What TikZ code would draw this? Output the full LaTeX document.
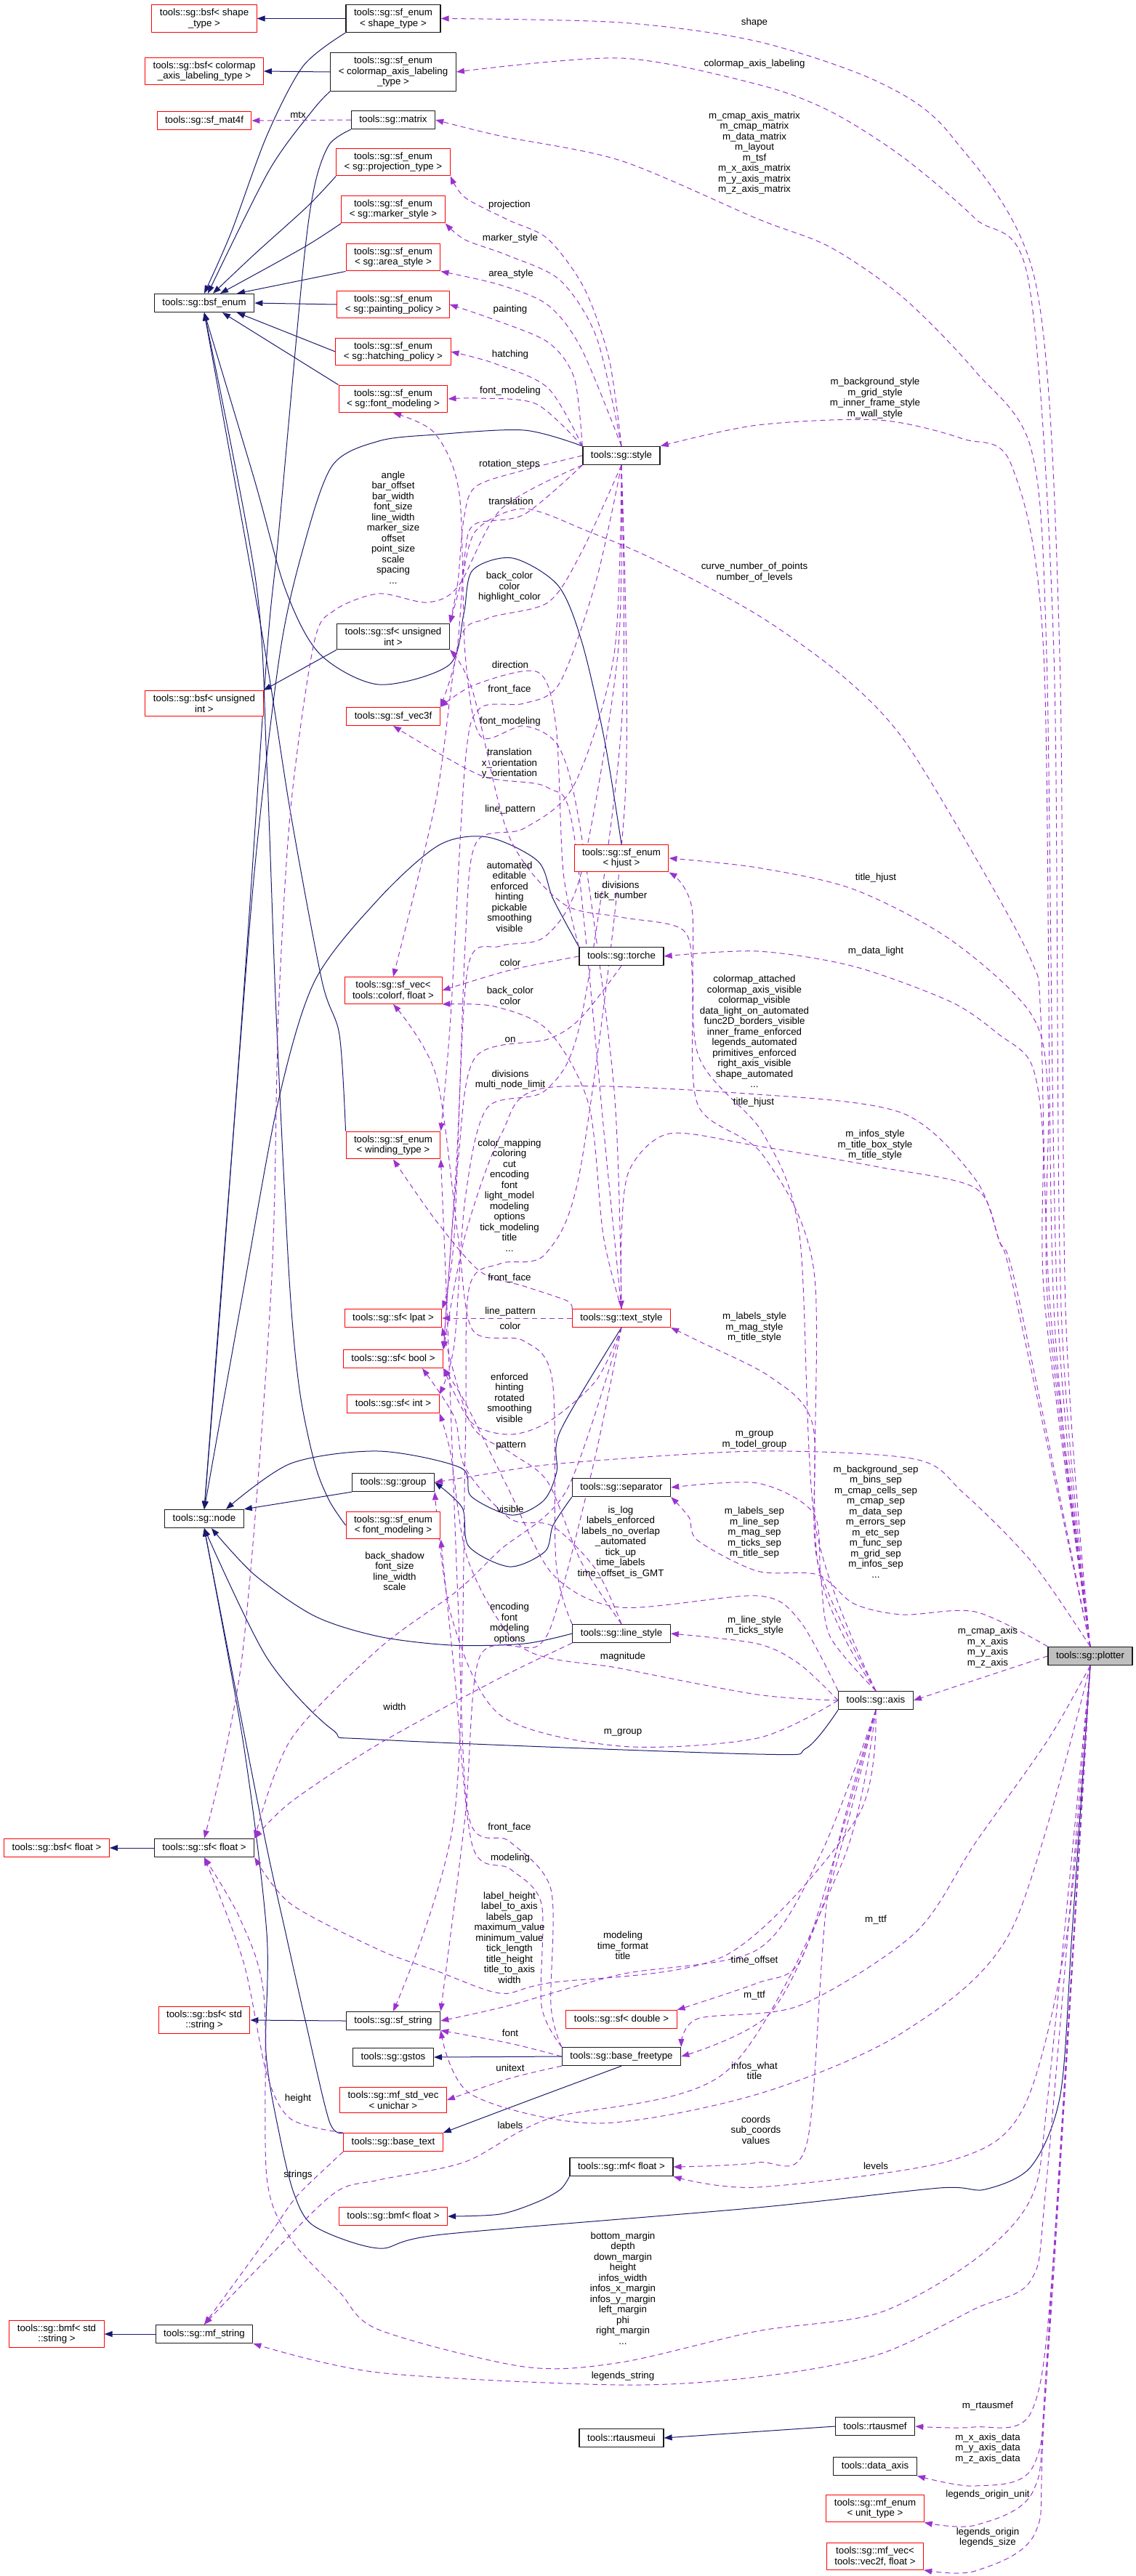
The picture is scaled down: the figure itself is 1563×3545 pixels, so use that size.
\documentclass[tikz,border=0pt]{standalone}
\usepackage{fontspec}
\setmainfont{Liberation Sans}
\usetikzlibrary{arrows.meta,backgrounds}
\definecolor{dxnavy}{HTML}{191970}
\definecolor{dxpurple}{HTML}{9A32CD}
\definecolor{dxred}{HTML}{FF0000}
\definecolor{dxink}{HTML}{1A1A1A}
\definecolor{dxgray}{HTML}{BFBFBF}

\begin{document}
\begin{tikzpicture}[
  x=1pt,y=-1pt,
  line join=round,
  >={Triangle[length=11pt,width=8pt]},
  every node/.style={font=\fontsize{13.3}{14.5}\selectfont,text=black},
  cls/.style={draw=dxink,line width=1.3pt,fill=white,align=center,
    inner xsep=11pt,inner ysep=5.5pt,minimum height=25pt},
  trunc/.style={cls,draw=dxred,line width=1pt},
  focus/.style={cls,fill=dxgray},
  edgetext/.style={align=center,inner sep=0pt},
  inherit/.style={->,draw=dxnavy,line width=1pt},
  uses/.style={->,draw=dxpurple,line width=1pt,dash pattern=on 7pt off 5pt}
]
\useasboundingbox (0,0) rectangle (1563,3545);

% Left column: base classes.
\node[trunc] (bsfshape) at (281,25.5) {tools::sg::bsf< shape\\\_type >};
\node[trunc] (bsfcmap) at (281,98) {tools::sg::bsf< colormap\\\_axis\_labeling\_type >};
\node[trunc] (sfmat) at (281,166) {tools::sg::sf\_mat4f};
\node[cls] (bsfenum) at (281,417) {tools::sg::bsf\_enum};
\node[trunc] (bsfuint) at (281,968) {tools::sg::bsf< unsigned\\int >};
\node[cls] (sgnode) at (281,2090) {tools::sg::node};
\node[trunc] (bsffloat) at (78,2543) {tools::sg::bsf< float >};
\node[cls] (sffloat) at (281,2543) {tools::sg::sf< float >};
\node[trunc] (bsfstring) at (281,2780) {tools::sg::bsf< std\\::string >};
\node[trunc] (bmfstring) at (78,3212) {tools::sg::bmf< std\\::string >};
\node[cls] (mfstring) at (281,3212) {tools::sg::mf\_string};

% Second column: fields.
\node[cls] (enumshape) at (541,25.5) {tools::sg::sf\_enum\\< shape\_type >};
\node[cls] (enumcmap) at (541,99) {tools::sg::sf\_enum\\< colormap\_axis\_labeling\\\_type >};
\node[cls] (matrix) at (541,165) {tools::sg::matrix};
\node[trunc] (enumproj) at (541,223) {tools::sg::sf\_enum\\< sg::projection\_type >};
\node[trunc] (enummarker) at (541,288) {tools::sg::sf\_enum\\< sg::marker\_style >};
\node[trunc] (enumarea) at (541,354) {tools::sg::sf\_enum\\< sg::area\_style >};
\node[trunc] (enumpaint) at (541,419) {tools::sg::sf\_enum\\< sg::painting\_policy >};
\node[trunc] (enumhatch) at (541,484) {tools::sg::sf\_enum\\< sg::hatching\_policy >};
\node[trunc] (enumfont) at (541,549) {tools::sg::sf\_enum\\< sg::font\_modeling >};
\node[cls] (sfuint) at (541,876) {tools::sg::sf< unsigned\\int >};
\node[trunc] (sfvec3f) at (541,986) {tools::sg::sf\_vec3f};
\node[trunc] (sfcolorf) at (541,1363) {tools::sg::sf\_vec<\\tools::colorf, float >};
\node[trunc] (enumwind) at (541,1576) {tools::sg::sf\_enum\\< winding\_type >};
\node[trunc] (sflpat) at (541,1814) {tools::sg::sf< lpat >};
\node[trunc] (sfbool) at (541,1870) {tools::sg::sf< bool >};
\node[trunc] (sfint) at (541,1932) {tools::sg::sf< int >};
\node[cls] (sggroup) at (541,2040) {tools::sg::group};
\node[trunc] (enumfontm) at (541,2099) {tools::sg::sf\_enum\\< font\_modeling >};
\node[cls] (sfstring) at (541,2781) {tools::sg::sf\_string};
\node[cls] (gstos) at (541,2831) {tools::sg::gstos};
\node[trunc] (mfunichar) at (541,2890) {tools::sg::mf\_std\_vec\\< unichar >};
\node[trunc] (basetext) at (541,2948) {tools::sg::base\_text};
\node[trunc] (bmffloat) at (541,3050) {tools::sg::bmf< float >};

% Third column: node kinds.
\node[cls] (style) at (855,627) {tools::sg::style};
\node[trunc] (enumhjust) at (855,1181) {tools::sg::sf\_enum\\< hjust >};
\node[cls] (torche) at (855,1316) {tools::sg::torche};
\node[trunc] (textstyle) at (855,1814) {tools::sg::text\_style};
\node[cls] (separator) at (855,2047) {tools::sg::separator};
\node[cls] (linestyle) at (855,2248) {tools::sg::line\_style};
\node[trunc] (sfdouble) at (855,2779) {tools::sg::sf< double >};
\node[cls] (freetype) at (855,2830) {tools::sg::base\_freetype};
\node[cls] (mffloat) at (855,2982) {tools::sg::mf< float >};
\node[cls] (rtausmeui) at (855,3355) {tools::rtausmeui};

% Fourth and fifth column.
\node[cls] (axis) at (1205,2340) {tools::sg::axis};
\node[cls] (rtausmef) at (1204,3339) {tools::rtausmef};
\node[cls] (dataaxis) at (1204,3394) {tools::data\_axis};
\node[trunc] (mfunit) at (1204,3452) {tools::sg::mf\_enum\\< unit\_type >};
\node[trunc] (mfvec2f) at (1204,3518) {tools::sg::mf\_vec<\\ tools::vec2f, float >};
\node[focus] (plotter) at (1500,2279) {tools::sg::plotter};

% Member names.
\node[edgetext] (lshape) at (1038,31) {shape};
\node[edgetext] (lcmapl) at (1038,88) {colormap\_axis\_labeling};
\node[edgetext] (lmtx) at (410,158) {mtx};
\node[edgetext] (lmatrices) at (1038,210.5) {m\_cmap\_axis\_matrix\\m\_cmap\_matrix\\m\_data\_matrix\\m\_layout\\m\_tsf\\m\_x\_axis\_matrix\\m\_y\_axis\_matrix\\m\_z\_axis\_matrix};
\node[edgetext] (lproj) at (701,282) {projection};
\node[edgetext] (lmarker) at (702,328) {marker\_style};
\node[edgetext] (larea) at (703,377) {area\_style};
\node[edgetext] (lpaint) at (702,426) {painting};
\node[edgetext] (lhatch) at (702,488) {hatching};
\node[edgetext] (lfontm) at (702,538) {font\_modeling};
\node[edgetext] (lstyles) at (1204,548) {m\_background\_style\\m\_grid\_style\\m\_inner\_frame\_style\\m\_wall\_style};
\node[edgetext] (lrot) at (701,639) {rotation\_steps};
\node[edgetext] (ltrans) at (703,690) {translation};
\node[edgetext] (lfloats) at (541,726) {angle\\bar\_offset\\bar\_width\\font\_size\\line\_width\\marker\_size\\offset\\point\_size\\scale\\spacing\\...};
\node[edgetext] (lcolors) at (701,808) {back\_color\\color\\highlight\_color};
\node[edgetext] (lcurve) at (1038,787.5) {curve\_number\_of\_points\\number\_of\_levels};
\node[edgetext] (ldir) at (702,914.5) {direction};
\node[edgetext] (lfront1) at (701,948.6) {front\_face};
\node[edgetext] (lfontm2) at (702,993) {font\_modeling};
\node[edgetext] (ltrans2) at (701,1051) {translation\\x\_orientation\\y\_orientation};
\node[edgetext] (llpat1) at (702,1114) {line\_pattern};
\node[edgetext] (lbools1) at (701,1234) {automated\\editable\\enforced\\hinting\\pickable\\smoothing\\visible};
\node[edgetext] (ldivtick) at (854,1226) {divisions\\tick\_number};
\node[edgetext] (lhjust1) at (1205,1208.5) {title\_hjust};
\node[edgetext] (ldatalight) at (1205,1309.5) {m\_data\_light};
\node[edgetext] (lcolor1) at (702,1325) {color};
\node[edgetext] (lcolors2) at (702,1370) {back\_color\\color};
\node[edgetext] (lon) at (702,1431) {on};
\node[edgetext] (ldivmulti) at (702,1486) {divisions\\multi\_node\_limit};
\node[edgetext] (lbools2) at (1038,1419.5) {colormap\_attached\\colormap\_axis\_visible\\colormap\_visible\\data\_light\_on\_automated\\func2D\_borders\_visible\\inner\_frame\_enforced\\legends\_automated\\primitives\_enforced\\right\_axis\_visible\\shape\_automated\\...};
\node[edgetext] (lhjust2) at (1037,1517) {title\_hjust};
\node[edgetext] (ltitles) at (1204,1576) {m\_infos\_style\\m\_title\_box\_style\\m\_title\_style};
\node[edgetext] (lstrings1) at (701,1645) {color\_mapping\\coloring\\cut\\encoding\\font\\light\_model\\modeling\\options\\tick\_modeling\\title\\...};
\node[edgetext] (lfront2) at (701,1759) {front\_face};
\node[edgetext] (llpat2) at (702,1805) {line\_pattern};
\node[edgetext] (lcolor2) at (702,1825) {color};
\node[edgetext] (ltextstyles) at (1038,1827) {m\_labels\_style\\m\_mag\_style\\m\_title\_style};
\node[edgetext] (lbools3) at (701,1923.5) {enforced\\hinting\\rotated\\smoothing\\visible};
\node[edgetext] (lgroups) at (1038,1982) {m\_group\\m\_todel\_group};
\node[edgetext] (lpattern) at (703,1990) {pattern};
\node[edgetext] (lvisible) at (702,2077) {visible};
\node[edgetext] (lseps) at (1205,2094) {m\_background\_sep\\m\_bins\_sep\\m\_cmap\_cells\_sep\\m\_cmap\_sep\\m\_data\_sep\\m\_errors\_sep\\m\_etc\_sep\\m\_func\_sep\\m\_grid\_sep\\m\_infos\_sep\\...};
\node[edgetext] (laxseps) at (1038,2109.5) {m\_labels\_sep\\m\_line\_sep\\m\_mag\_sep\\m\_ticks\_sep\\m\_title\_sep};
\node[edgetext] (lbools4) at (854,2122) {is\_log\\labels\_enforced\\labels\_no\_overlap\\\_automated\\tick\_up\\time\_labels\\time\_offset\_is\_GMT};
\node[edgetext] (lfloats2) at (543,2162) {back\_shadow\\font\_size\\line\_width\\scale};
\node[edgetext] (lstrings2) at (701,2234) {encoding\\font\\modeling\\options};
\node[edgetext] (llines) at (1038,2237) {m\_line\_style\\m\_ticks\_style};
\node[edgetext] (laxes) at (1359,2267) {m\_cmap\_axis\\m\_x\_axis\\m\_y\_axis\\m\_z\_axis};
\node[edgetext] (lmag) at (857,2280) {magnitude};
\node[edgetext] (lwidth) at (543,2349) {width};
\node[edgetext] (lgroup) at (857,2384) {m\_group};
\node[edgetext] (lfront3) at (701,2515) {front\_face};
\node[edgetext] (lmodeling) at (702,2557) {modeling};
\node[edgetext] (lttf1) at (1205,2642) {m\_ttf};
\node[edgetext] (lfloats3) at (701,2666.5) {label\_height\\label\_to\_axis\\labels\_gap\\maximum\_value\\minimum\_value\\tick\_length\\title\_height\\title\_to\_axis\\width};
\node[edgetext] (lstrings3) at (857,2677.5) {modeling\\time\_format\\title};
\node[edgetext] (ltimeoff) at (1038,2698) {time\_offset};
\node[edgetext] (lttf2) at (1038,2746) {m\_ttf};
\node[edgetext] (lfont) at (702,2798) {font};
\node[edgetext] (lunitext) at (702,2846) {unitext};
\node[edgetext] (linfos) at (1038,2849.5) {infos\_what\\title};
\node[edgetext] (lheight) at (410,2888) {height};
\node[edgetext] (llabels) at (702,2925) {labels};
\node[edgetext] (lcoords) at (1040,2931) {coords\\sub\_coords\\values};
\node[edgetext] (llevels) at (1205,2981) {levels};
\node[edgetext] (lstrs) at (410,2993) {strings};
\node[edgetext] (lmargins) at (857,3149) {bottom\_margin\\depth\\down\_margin\\height\\infos\_width\\infos\_x\_margin\\infos\_y\_margin\\left\_margin\\phi\\right\_margin\\...};
\node[edgetext] (llegstr) at (857,3270) {legends\_string};
\node[edgetext] (lrtaus) at (1359,3311) {m\_rtausmef};
\node[edgetext] (ldata) at (1359,3369) {m\_x\_axis\_data\\m\_y\_axis\_data\\m\_z\_axis\_data};
\node[edgetext] (lunit) at (1359,3433) {legends\_origin\_unit};
\node[edgetext] (llegends) at (1359,3492) {legends\_origin\\legends\_size};

\begin{pgfonlayer}{background}
% Inheritance: straight ones.
\draw[inherit] (enumshape.west) -- (bsfshape.east);
\draw[inherit] (enumcmap.west) -- (bsfcmap.east);
\draw[inherit] (sfuint.south west) -- (bsfuint.north east);
\draw[inherit] (sffloat.west) -- (bsffloat.east);
\draw[inherit] (sfstring.west) -- (bsfstring.east);
\draw[inherit] (mfstring.west) -- (bmfstring.east);
\draw[inherit] (freetype.west) -- (gstos.east);
\draw[inherit] (rtausmef.west) -- (rtausmeui.east);
\draw[inherit] (enumpaint.west) -- (bsfenum.east);
\draw[inherit] (enumarea.south west) -- ([xshift=45pt]bsfenum.north);
\draw[inherit] (enumhatch.west) -- ([xshift=45pt]bsfenum.south);
\draw[inherit] (enumfont.north west) -- ([xshift=25pt]bsfenum.south);
\draw[inherit] (sggroup.south west) -- (sgnode.north east);

% Inheritance: the enums above bsf_enum.
\draw[inherit] plot[smooth] coordinates {(enumshape.south west) (417,91) (367,187) (318,320) (bsfenum.north)};
\draw[inherit] plot[smooth] coordinates {(enumcmap.south west) (430,152) (370,235) ([xshift=5pt]bsfenum.north)};
\draw[inherit] plot[smooth] coordinates {(enumproj.south west) (423,284) (350,350) ([xshift=12pt]bsfenum.north)};
\draw[inherit] plot[smooth] coordinates {(enummarker.south west) (417,341) ([xshift=22pt]bsfenum.north)};

% Inheritance: long ones into bsf_enum and node.
\draw[inherit] plot[smooth] coordinates {(enumhjust.north) (832,1020) (801,885) (768,806) (705,768) (650,785) (638,845) (618,915) (521,942) (440,900) (393,812) (350,660) (bsfenum.south)};
\draw[inherit] plot[smooth] coordinates {(enumwind.north west) (467,1424) (443,1350) (400,1120) (362,880) (bsfenum.south)};
\draw[inherit] plot[smooth] coordinates {(enumfontm.west) (453,2065) (433,2014) (412,1912) (398,1760) (380,1396) (367,1050) (352,800) (bsfenum.south)};
\draw[inherit] plot[smooth] coordinates {(style.north west) (721,592) (600,598) (521,607) (457,641) (417,755) (385,900) (350,1200) (318,1600) (sgnode.north)};
\draw[inherit] plot[smooth] coordinates {(matrix.south west) (453,199) (433,255) (417,369) (383,738) (368,890) (340,1300) (305,1775) (sgnode.north)};
\draw[inherit] plot[smooth] coordinates {(torche.north west) (761,1237) (740,1185) (671,1152) (604,1163) (521,1237) (433,1350) (383,1515) (335,1775) (sgnode.north)};
\draw[inherit] plot[smooth] coordinates {(textstyle.south) (771,1969) (766,2025) (748,2065) (704,2085) (648,2059) (634,2020) (521,1997) (400,2014) ([xshift=30pt]sgnode.north)};
\draw[inherit] plot[smooth] coordinates {(separator.south west) (761,2099) (750,2135) (701,2156) (645,2128) (636,2075) (sggroup.east)};
\draw[inherit] plot[smooth] coordinates {(linestyle.west) (721,2262) (621,2264) (521,2252) (433,2224) (350,2167) ([xshift=10pt]sgnode.south)};
\draw[inherit] plot[smooth] coordinates {(axis.south west) (1109,2406) (1042,2414) (521,2394) (457,2380) (367,2281) (sgnode.south)};
\draw[inherit] plot[smooth] coordinates {(basetext.north west) (453,2919) (420,2780) (393,2660) (360,2508) (sgnode.south)};
\draw[inherit] plot[smooth] coordinates {(plotter.south) (1475,2660) (1459,2882) (1419,2981) (1355,3013) (1292,3011) (1042,3038) (608,3075) (521,3094) (433,3064) (405,3020) (385,2940) (366,2825) (367,2660) (335,2400) (sgnode.south)};
\draw[inherit] plot[smooth] coordinates {(freetype.south) (721,2893) (basetext.north east)};
\draw[inherit] plot[smooth] coordinates {(mffloat.south west) (771,3013) (740,3030) (688,3047) (bmffloat.east)};

% Members of the plotter.
\draw[uses] plot[smooth] coordinates {(plotter.north) (1466,1800) (1458,900) (1425,390) (1309,187) (1209,113) (1042,57) (854,31) (enumshape.east)};
\draw[uses] plot[smooth] coordinates {(plotter.north) (1460,1800) (1450,900) (1415,386) (1342,301) (1242,216) (1142,153) (1042,116) (854,80) (enumcmap.east)};
\draw[uses] plot[smooth] coordinates {(plotter.north) (1455,1800) (1440,900) (1419,619) (1342,511) (1242,409) (1142,340) (1042,301) (854,221) (688,187) (matrix.east)};
\draw[uses] plot[smooth] coordinates {(plotter.north) (1450,1800) (1436,900) (1392,641) (1325,604) (1209,578) (1042,585) (style.north east)};
\draw[uses] plot[smooth] coordinates {(plotter.north) (1445,1800) (1432,1400) (1419,1322) (1342,1180) (1242,1016) (1159,930) (1042,846) (900,770) (811,732) (721,700) (655,730) (635,800) (sfuint.north east)};
\draw[uses] plot[smooth] coordinates {(plotter.north) (1442,1800) (1442,1509) (1419,1396) (1309,1294) (1175,1224) (1042,1194) (enumhjust.east)};
\draw[uses] plot[smooth] coordinates {(plotter.north) (1438,1800) (1435,1566) (1419,1464) (1375,1424) (1309,1379) (1175,1330) (1042,1309) (torche.east)};
\draw[uses] plot[smooth] coordinates {(plotter.north) (1395,1775) (1375,1708) (1342,1623) (1242,1532) (1042,1506) (751,1497) (690,1560) (640,1700) (sfbool.north east)};
\draw[uses] plot[smooth] coordinates {(plotter.north) (1399,1775) (1375,1708) (1342,1635) (1209,1606) (1042,1577) (921,1560) (866,1610) (855,1700) (textstyle.north)};
\draw[uses] plot[smooth] coordinates {(plotter.north) (1420,2150) (1325,2054) (1259,2008) (1042,1997) (771,2014) (660,2030) (sggroup.east)};
\draw[uses] plot[smooth] coordinates {(plotter.north west) (1342,2218) (1242,2222) (1175,2207) (1125,2167) (1042,2162) (960,2120) (948,2088) (separator.south east)};
\draw[uses] (plotter.west) -- (axis.east);
\draw[uses] plot[smooth] coordinates {(plotter.south) (1442,2394) (1342,2536) (1259,2660) (1100,2760) (960,2778) (freetype.north east)};
\draw[uses] plot[smooth] coordinates {(plotter.south) (1392,2655) (1242,2797) (1042,2882) (821,2922) (648,2882) (sfstring.south east)};
\draw[uses] plot[smooth] coordinates {(plotter.south) (1469,2655) (1409,2899) (1309,2973) (1042,3010) (mffloat.south east)};
\draw[uses] plot[smooth] coordinates {(plotter.south) (1442,2882) (1419,3024) (1342,3109) (1209,3183) (1042,3208) (854,3251) (721,3257) (521,3206) (467,3154) (400,3081) (367,2996) (363,2746) (330,2640) (sffloat.south)};
\draw[uses] plot[smooth] coordinates {(plotter.south) (1440,3000) (1419,3137) (1342,3177) (1209,3240) (1042,3271) (854,3282) (521,3265) (mfstring.south east)};
\draw[uses] plot[smooth] coordinates {(plotter.south) (1450,3100) (1419,3319) (1340,3340) (rtausmef.east)};
\draw[uses] plot[smooth] coordinates {(plotter.south) (1445,3200) (1422,3393) (1342,3421) (dataaxis.south east)};
\draw[uses] plot[smooth] coordinates {(plotter.south) (1440,3250) (1422,3427) (1342,3475) (mfunit.south east)};
\draw[uses] plot[smooth] coordinates {(plotter.south) (1438,3300) (1425,3484) (1342,3538) (mfvec2f.south east)};

% Members of the matrix and the style.
\draw[uses] (matrix.west) -- (sfmat.east);
\draw[uses] plot[smooth] coordinates {(style.north) (838,494) (804,397) (754,329) (700,303) (640,272) (enumproj.south east)};
\draw[uses] plot[smooth] coordinates {(style.north) (821,465) (771,386) (700,352) (640,330) (enummarker.south east)};
\draw[uses] plot[smooth] coordinates {(style.north) (800,480) (754,420) (688,392) (enumarea.south east)};
\draw[uses] plot[smooth] coordinates {(style.north west) (790,520) (754,471) (680,440) (enumpaint.east)};
\draw[uses] plot[smooth] coordinates {(style.north west) (754,534) (680,500) (enumhatch.east)};
\draw[uses] plot[smooth] coordinates {(style.north west) (738,556) (660,548) (enumfont.east)};
\draw[uses] plot[smooth] coordinates {(style.west) (721,647) (654,670) (638,715) (630,800) (sfuint.north east)};
\draw[uses] plot[smooth] coordinates {(style.south west) (721,708) (654,721) (640,760) (628,900) (sfvec3f.north east)};
\draw[uses] plot[smooth] coordinates {(style.south west) (690,700) (631,806) (588,829) (521,817) (460,840) (432,885) (400,1112) (383,1396) (373,1775) (333,2281) (sffloat.north)};
\draw[uses] plot[smooth] coordinates {(style.south) (800,760) (754,829) (671,851) (631,885) (600,1100) (sfcolorf.north)};
\draw[uses] plot[smooth] coordinates {(style.south) (820,800) (770,940) (721,968) (660,975) (640,1050) (620,1400) (enumwind.north east)};
\draw[uses] plot[smooth] coordinates {(style.south) (845,900) (790,1080) (721,1140) (655,1160) (640,1300) (625,1700) (sflpat.north east)};
\draw[uses] plot[smooth] coordinates {(style.south) (850,900) (800,1200) (751,1288) (688,1302) (644,1330) (628,1600) (sfbool.north east)};
\draw[uses] plot[smooth] coordinates {(style.south) (855,1000) (800,1400) (751,1500) (670,1525) (640,1650) (625,1850) (sfint.north east)};
\draw[uses] plot[smooth] coordinates {(style.south) (860,1100) (800,1600) (751,1725) (688,1739) (645,1775) (640,2000) (625,2500) (sfstring.north)};

% Members of the torche.
\draw[uses] plot[smooth] coordinates {(torche.north west) (775,1200) (765,1000) (740,925) (654,942) (sfvec3f.north east)};
\draw[uses] plot[smooth] coordinates {(torche.west) (702,1335) (sfcolorf.east)};
\draw[uses] plot[smooth] coordinates {(torche.south) (800,1400) (754,1430) (654,1455) (630,1600) (sfbool.north east)};

% Members of the text_style.
\draw[uses] plot[smooth] coordinates {(textstyle.north) (845,1500) (800,1150) (770,1030) (721,999) (661,1013) (640,900) (632,680) (598,596) (enumfont.south)};
\draw[uses] plot[smooth] coordinates {(textstyle.north) (835,1600) (790,1150) (754,1084) (661,1067) (sfvec3f.south)};
\draw[uses] plot[smooth] coordinates {(textstyle.north) (830,1700) (810,1520) (754,1418) (680,1385) (sfcolorf.south east)};
\draw[uses] plot[smooth] coordinates {(textstyle.north west) (780,1790) (721,1770) (661,1750) (600,1680) (enumwind.south)};
\draw[uses] (textstyle.west) -- (sflpat.east);
\draw[uses] plot[smooth] coordinates {(textstyle.south) (820,1900) (754,1957) (701,1974) (648,1957) (sfbool.south east)};
\draw[uses] plot[smooth] coordinates {(textstyle.south) (820,2000) (770,2200) (740,2265) (660,2280) (640,2500) (sfstring.north east)};
\draw[uses] plot[smooth] coordinates {(textstyle.south) (780,2050) (688,2133) (628,2190) (521,2269) (400,2394) (sffloat.north east)};

% Members of the line_style.
\draw[uses] plot[smooth] coordinates {(linestyle.north west) (765,2150) (760,1900) (720,1845) (650,1830) (630,1700) (600,1480) (sfcolorf.south)};
\draw[uses] plot[smooth] coordinates {(linestyle.north) (800,2150) (754,2040) (704,2000) (648,1960) (sflpat.south east)};
\draw[uses] plot[smooth] coordinates {(linestyle.north) (820,2160) (760,2100) (702,2090) (640,2020) (625,1950) ([xshift=40pt]sfbool.south)};
\draw[uses] plot[smooth] coordinates {(linestyle.south west) (688,2309) (521,2400) (400,2480) (sffloat.north east)};

% Members of the axis.
\draw[uses] plot[smooth] coordinates {(axis.north) (1125,2150) (1120,1750) (1050,1590) (960,1520) (953,1350) (940,1280) (854,1262) (774,1243) (700,1150) (650,950) (sfuint.south east)};
\draw[uses] plot[smooth] coordinates {(axis.north) (1122,2100) (1100,1700) (1050,1560) (960,1450) (952,1250) (enumhjust.south east)};
\draw[uses] plot[smooth] coordinates {(axis.north) (1125,2150) (1118,1960) (1060,1895) (960,1845) (textstyle.south east)};
\draw[uses] plot[smooth] coordinates {(axis.north west) (1100,2230) (1042,2196) (854,2212) (761,2167) (700,2050) (640,1930) (sfbool.south east)};
\draw[uses] plot[smooth] coordinates {(axis.north) (1142,2252) (1129,2167) (1119,2082) (1042,2041) (separator.east)};
\draw[uses] plot[smooth] coordinates {(axis.west) (1100,2290) (1042,2262) (linestyle.east)};
\draw[uses] plot[smooth] coordinates {(axis.west) (1042,2332) (854,2296) (720,2268) (645,2150) (620,2000) (sfint.south east)};
\draw[uses] plot[smooth] coordinates {(axis.west) (1042,2392) (854,2403) (688,2360) (621,2224) (sggroup.south east)};
\draw[uses] plot[smooth] coordinates {(axis.south) (1180,2500) (1000,2690) (754,2729) (688,2743) (600,2712) (521,2683) (400,2620) (sffloat.south east)};
\draw[uses] plot[smooth] coordinates {(axis.south) (1130,2550) (1042,2683) (854,2717) (700,2760) (sfstring.east)};
\draw[uses] plot[smooth] coordinates {(axis.south) (1150,2550) (1100,2700) (1042,2729) (sfdouble.north east)};
\draw[uses] plot[smooth] coordinates {(axis.south) (1140,2600) (1060,2770) (freetype.east)};
\draw[uses] plot[smooth] coordinates {(axis.south) (1140,2600) (1110,2950) (1042,2976) (mffloat.east)};
\draw[uses] plot[smooth] coordinates {(axis.south) (1160,2560) (1000,2850) (754,2916) (640,2975) (521,3000) (460,3018) (367,3109) (mfstring.north)};

% Members of base_freetype and base_text.
\draw[uses] plot[smooth] coordinates {(freetype.north west) (758,2760) (758,2600) (701,2534) (645,2500) (630,2200) (615,1800) (enumwind.south east)};
\draw[uses] plot[smooth] coordinates {(freetype.north west) (745,2760) (745,2620) (702,2572) (650,2540) (625,2300) (enumfontm.south east)};
\draw[uses] plot[smooth] coordinates {(freetype.west) (702,2812) (sfstring.south east)};
\draw[uses] plot[smooth] coordinates {(freetype.south west) (702,2860) (mfunichar.east)};
\draw[uses] plot[smooth] coordinates {(basetext.north west) (400,2916) (367,2854) (335,2700) (sffloat.south)};
\draw[uses] plot[smooth] coordinates {(basetext.south west) (453,2979) (407,3024) (367,3081) (mfstring.north)};
\end{pgfonlayer}

\end{tikzpicture}
\end{document}
